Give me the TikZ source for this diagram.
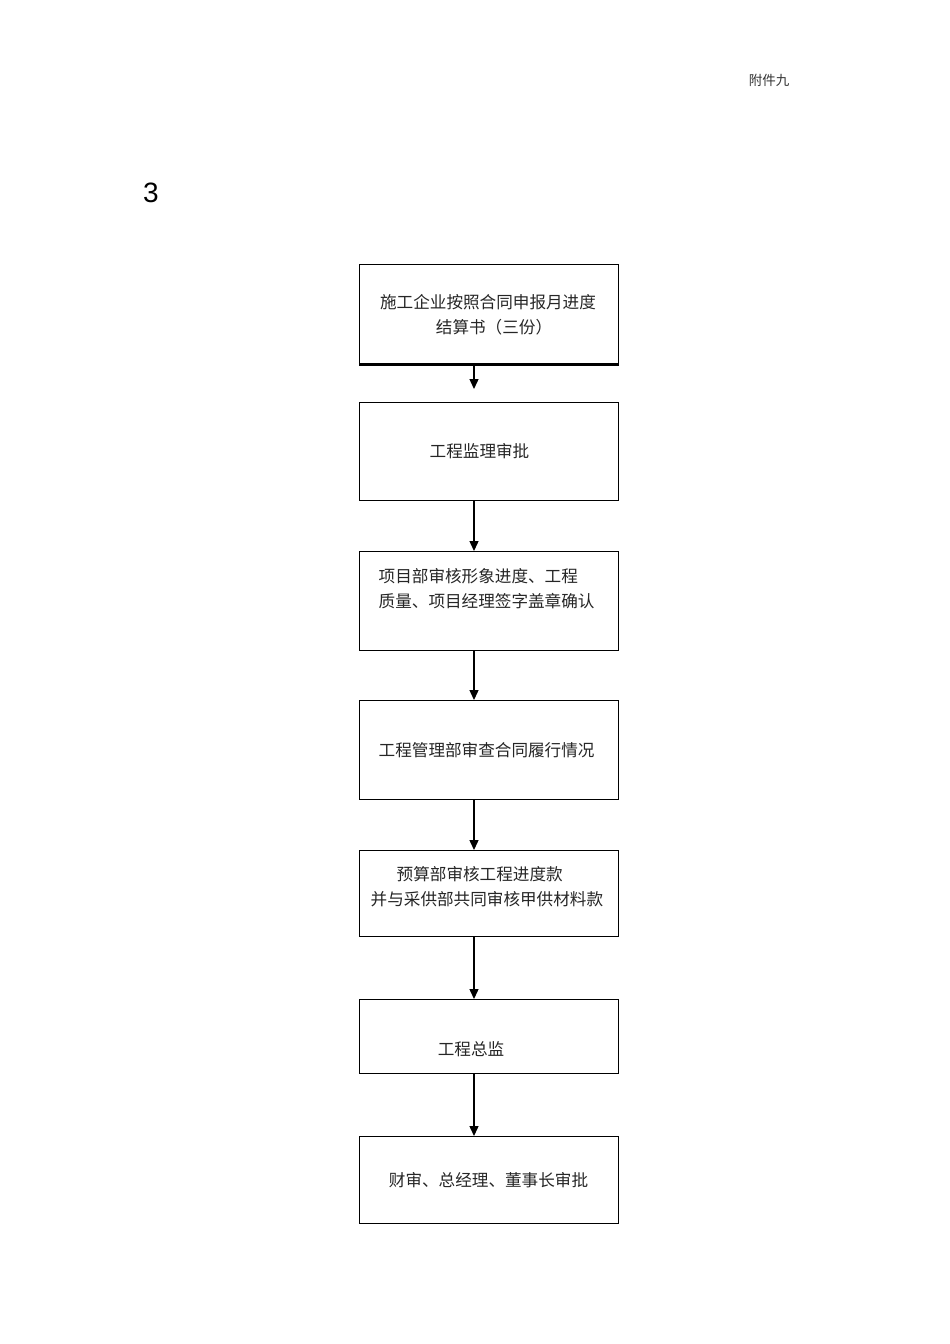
\documentclass[tikz,border=0pt]{standalone}
\usepackage{fontspec}
\setmainfont{Liberation Sans}
\newfontfamily\cjk{Noto Sans CJK SC}
\usetikzlibrary{arrows.meta}
\begin{document}
\begin{tikzpicture}[x=1pt,y=-1pt,
  box/.style={draw,line width=1.1pt,minimum width=259pt,inner sep=0pt,anchor=north west},
  lbl/.style={font=\cjk\fontsize{16.6}{25}\selectfont,inner sep=0pt,text=black!85},
  arr/.style={line width=1.4pt,-{Triangle[length=10pt,width=9pt]}}]
\fill[white] (0,0) rectangle (950,1344);
\useasboundingbox (0,0) rectangle (950,1344);
% header
\node[font=\cjk\fontsize{13.5}{16}\selectfont,text=black!80,inner sep=0pt] (hdr) at (769,80) {附件九};
\node[font=\fontsize{28}{30}\selectfont,inner sep=0pt] (num) at (151,193) {3};
% boxes
\node[box,minimum height=99pt] (b1) at (359,264) {};
\node[box,minimum height=98pt] (b2) at (359,402) {};
\node[box,minimum height=99pt] (b3) at (359,551) {};
\node[box,minimum height=99pt] (b4) at (359,700) {};
\node[box,minimum height=86pt] (b5) at (359,850) {};
\node[box,minimum height=74pt] (b6) at (359,999) {};
\node[box,minimum height=87pt] (b7) at (359,1136) {};
\draw[line width=2pt] ([yshift=-0.5pt]b1.south west) -- ([yshift=-0.5pt]b1.south east);
% labels
\node[lbl,align=center] (t1) at (488,314.5) {施工企业按照合同申报月进度\\\hspace*{12pt}结算书（三份）};
\node[lbl] (t2) at (479.5,451) {工程监理审批};
\node[lbl,align=left,anchor=west] (t3) at (378.5,588.5) {项目部审核形象进度、工程\\质量、项目经理签字盖章确认};
\node[lbl,anchor=west] (t4) at (378.5,750) {工程管理部审查合同履行情况};
\node[lbl,align=left,anchor=west] (t5) at (370.5,886.5) {\hspace*{26pt}预算部审核工程进度款\\并与采供部共同审核甲供材料款};
\node[lbl] (t6) at (471,1049) {工程总监};
\node[lbl] (t7) at (488.5,1180) {财审、总经理、董事长审批};
% connectors
\coordinate (ax) at (474,0);
\draw[arr,shorten >=13pt] (ax |- b1.south) -- (ax |- b2.north);
\draw[arr] (ax |- b2.south) -- (ax |- b3.north);
\draw[arr] (ax |- b3.south) -- (ax |- b4.north);
\draw[arr] (ax |- b4.south) -- (ax |- b5.north);
\draw[arr] (ax |- b5.south) -- (ax |- b6.north);
\draw[arr] (ax |- b6.south) -- (ax |- b7.north);
\end{tikzpicture}
\end{document}
